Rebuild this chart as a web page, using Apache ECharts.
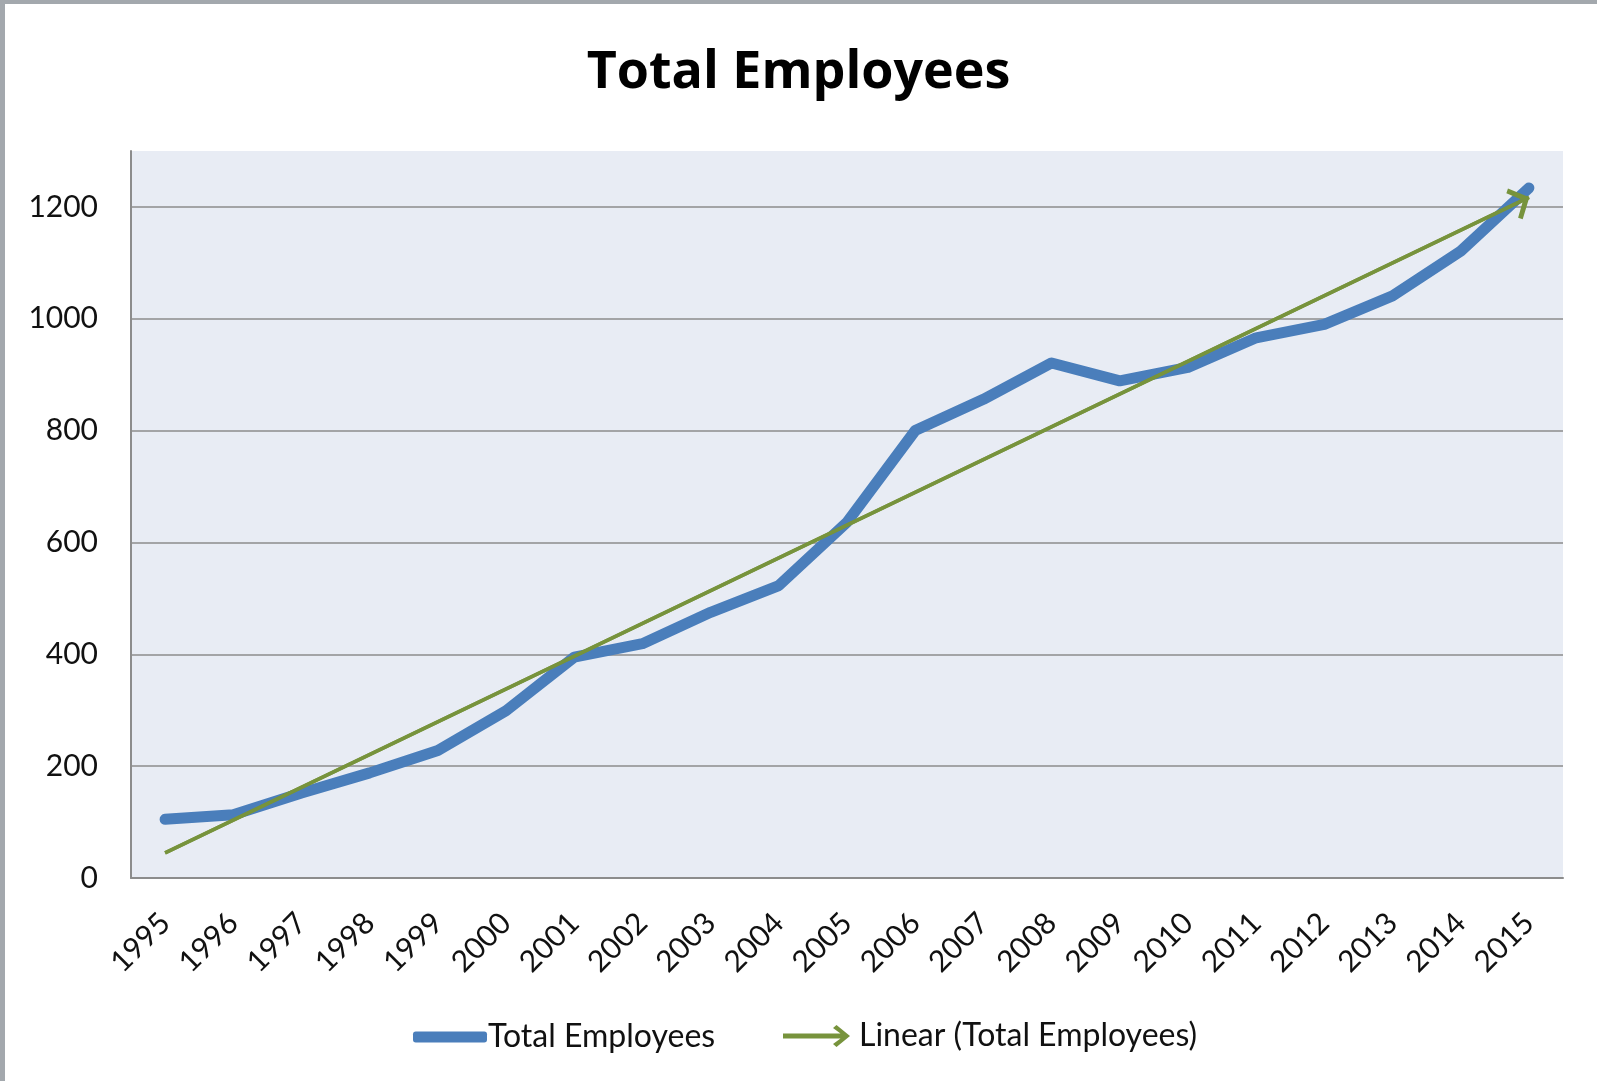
<!DOCTYPE html>
<html>
<head>
<meta charset="utf-8">
<script src="https://cdn.jsdelivr.net/npm/echarts@6/dist/echarts.min.js"></script>
<style>
html,body{margin:0;padding:0;background:#fff;}
#chart{width:1597px;height:1081px;}
</style>
</head>
<body>
<div id="chart"></div>
<script>
const years = ['1995','1996','1997','1998','1999','2000','2001','2002','2003','2004','2005','2006','2007','2008','2009','2010','2011','2012','2013','2014','2015'];
const totalEmployees = [105,113,152,188,228,299,395,419,475,523,636,800,856,921,889,913,966,990,1041,1121,1234];
// Linear trend line end points
const trendStart = 45;
const trendEnd = 1217;
const yTicks = {min: 0, max: 1300, interval: 200};

const trendData = years.map((y, i) => i === 0 ? trendStart : (i === years.length - 1 ? trendEnd : null));

const FONT = 'Lato';
const chevronUp = 'path://M0,18 L20,0 L40,18 L36,22 L20,8 L4,22 Z';
const legendArrow = 'path://M0,8.6 L57.5,8.6 L50,3 L53.5,0 L67,11 L53.5,22 L50,19 L57.5,13.4 L0,13.4 Z';

const chart = echarts.init(document.getElementById('chart'), null, {renderer: 'canvas'});
chart.setOption({
  animation: false,
  backgroundColor: '#ffffff',
  title: {
    text: 'Total Employees',
    left: 'center',
    top: 42,
    textStyle: {fontFamily: 'Open Sans', fontWeight: 'bold', fontSize: 52, color: '#000'}
  },
  graphic: [
    {type: 'rect', left: 0, top: 0, shape: {width: 5, height: 1081}, style: {fill: '#A3A8AD'}},
    {type: 'rect', left: 0, top: 0, shape: {width: 1597, height: 4}, style: {fill: '#A3A8AD'}}
  ],
  grid: {
    left: 131, top: 151, right: 34, bottom: 203,
    show: true, backgroundColor: '#E8ECF4', borderWidth: 0,
    containLabel: false
  },
  legend: [
    {
      data: ['Total Employees'],
      left: 408, top: 1016,
      icon: 'roundRect',
      itemWidth: 74, itemHeight: 11,
      itemGap: 0,
      textStyle: {fontFamily: FONT, fontSize: 32, color: '#111', padding: [0,0,0,-4]}
    },
    {
      data: ['Linear (Total Employees)'],
      left: 778, top: 1015,
      icon: legendArrow,
      itemWidth: 67, itemHeight: 22,
      textStyle: {fontFamily: FONT, fontSize: 32, color: '#111', padding: [0,0,0,4]}
    }
  ],
  xAxis: {
    type: 'category',
    data: years,
    boundaryGap: true,
    axisLine: {show: true, lineStyle: {color: '#8C8C8C', width: 2}},
    axisTick: {show: false},
    axisLabel: {
      interval: 0, rotate: 45, margin: 40,
      fontFamily: FONT, fontSize: 30, color: '#111'
    },
    splitLine: {show: false}
  },
  yAxis: {
    type: 'value',
    min: yTicks.min, max: yTicks.max, interval: yTicks.interval,
    axisLine: {show: true, lineStyle: {color: '#8C8C8C', width: 2}},
    axisTick: {show: false},
    axisLabel: {
      margin: 33, fontFamily: FONT, fontSize: 30, color: '#111',
      showMaxLabel: false,
      formatter: function (v) { return String(v); }
    },
    splitLine: {show: true, showMaxLine: false, showMinLine: false, lineStyle: {color: '#8C8C8C', width: 1.5}}
  },
  series: [
    {
      name: 'Total Employees',
      type: 'line',
      data: totalEmployees,
      symbol: 'none',
      color: '#4A7EBB',
      lineStyle: {color: '#4A7EBB', width: 11, cap: 'round', join: 'round'},
      z: 2
    },
    {
      name: 'Linear (Total Employees)',
      type: 'line',
      data: trendData,
      connectNulls: true,
      symbol: 'none',
      color: '#77933C',
      lineStyle: {color: '#77933C', width: 3.5},
      z: 3,
      markLine: {
        silent: true,
        symbol: ['none', chevronUp],
        symbolSize: [34, 19],
        symbolOffset: [0, [0, 9]],
        label: {show: false},
        emphasis: {disabled: true},
        lineStyle: {color: '#77933C', width: 3.5, type: 'solid'},
        itemStyle: {color: '#77933C'},
        data: [[{coord: [years[0], trendStart]}, {coord: [years[years.length - 1], trendEnd]}]]
      }
    }
  ]
});
</script>
</body>
</html>
